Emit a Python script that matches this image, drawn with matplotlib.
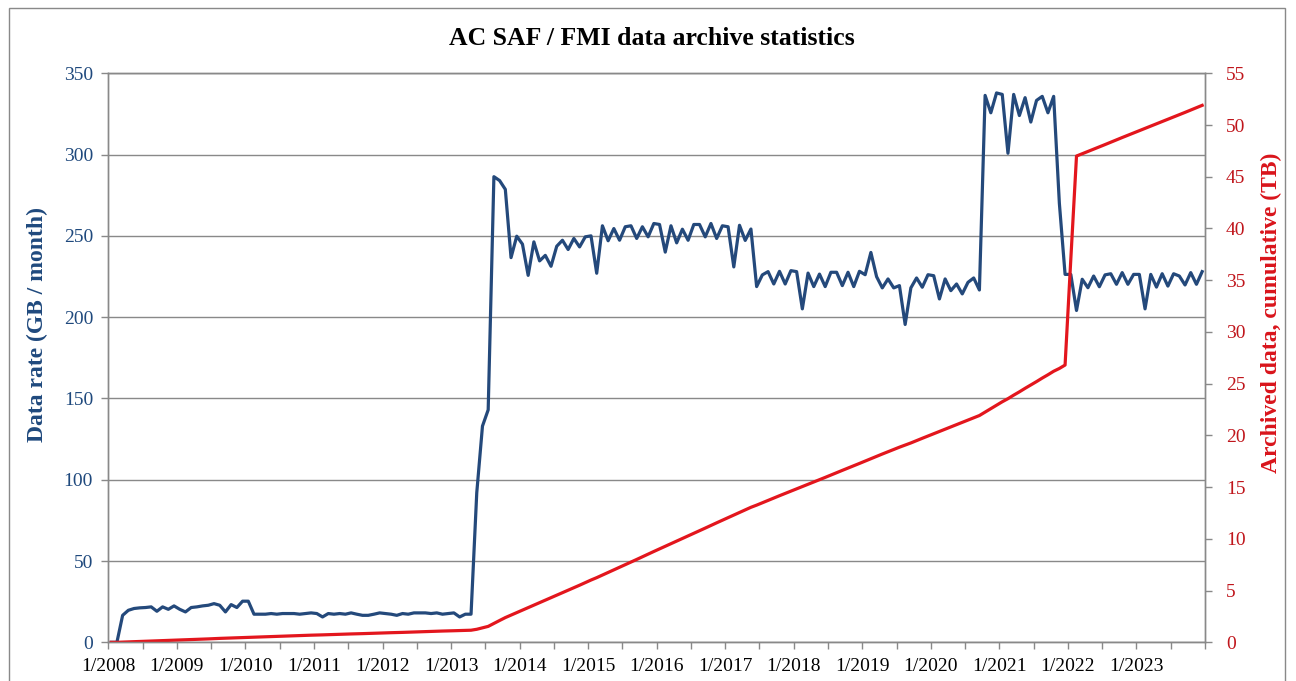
import numpy as np
import matplotlib.pyplot as plt
from matplotlib.patches import Rectangle

plt.rcParams['font.family'] = ['Liberation Serif', 'DejaVu Serif']

# data rate in GB / month, one value per month, 1/2008 .. 12/2023
rate_gb = [
    0, 0, 16.6, 19.7, 20.8, 21.2, 21.4, 21.8, 19.1, 21.8, 20.3, 22.4,            # 2008
    20.3, 18.7, 21.4, 21.8, 22.4, 22.8, 23.8, 22.8, 18.7, 23.2, 21.4, 25.3,      # 2009
    25.3, 17.3, 17.3, 17.3, 17.7, 17.3, 17.7, 17.7, 17.7, 17.3, 17.7, 18.1,      # 2010
    17.7, 15.6, 17.7, 17.3, 17.7, 17.3, 18.1, 17.3, 16.6, 16.6, 17.3, 18.1,      # 2011
    17.7, 17.3, 16.6, 17.7, 17.3, 18.1, 18.1, 18.1, 17.7, 18.1, 17.3, 17.7,      # 2012
    18.1, 15.6, 17.3, 17.3, 92, 133, 143, 286.4, 284, 278.6, 236.6, 249.8,       # 2013
    244.9, 225.7, 246.3, 234.6, 238, 231.3, 243.6, 247.3, 241.6, 248.4, 243.2, 249.4,  # 2014
    250, 227, 256.2, 247, 254.5, 247.3, 255.6, 256.2, 248.4, 255.6, 249.4, 257.6,      # 2015
    257, 240, 256.2, 245.7, 254.1, 247.3, 257, 257, 249.4, 257.6, 248.4, 256.2,        # 2016
    255.6, 230.9, 256.5, 247.2, 254.2, 218.8, 226, 228, 220.4, 228.2, 220.4, 228.6,    # 2017
    228, 205.1, 227.1, 218.8, 226.5, 218.8, 227.6, 227.6, 219.4, 227.6, 218.8, 228.2,  # 2018
    226.1, 239.8, 224.9, 218, 223.5, 218, 219.4, 195.5, 218, 224.1, 218.4, 226.1,      # 2019
    225.5, 211.2, 223.5, 216.3, 220.4, 214.3, 221.4, 224.1, 216.7, 336.4, 325.7, 337.9,  # 2020
    337, 300.8, 337, 324, 335, 320, 333.3, 335.8, 325.7, 335.8, 270, 226.3,            # 2021
    226.3, 204.1, 223.3, 218.1, 225.3, 218.7, 226, 226.7, 220.2, 227.4, 220.2, 226.3,  # 2022
    226.3, 205.1, 226.3, 218.5, 226.7, 219.1, 226.7, 225.3, 219.8, 227.4, 220.2, 228,  # 2023
]

# archived data, cumulative, TB
archive_tb = [
    0, 0, 0.02, 0.04, 0.06, 0.08, 0.10, 0.12, 0.14, 0.16, 0.18, 0.21,
    0.23, 0.24, 0.27, 0.29, 0.31, 0.33, 0.36, 0.38, 0.40, 0.42, 0.44, 0.47,
    0.49, 0.51, 0.53, 0.54, 0.56, 0.58, 0.60, 0.62, 0.63, 0.65, 0.67, 0.69,
    0.70, 0.72, 0.74, 0.75, 0.77, 0.79, 0.81, 0.82, 0.84, 0.86, 0.88, 0.89,
    0.91, 0.93, 0.94, 0.96, 0.98, 1.00, 1.02, 1.03, 1.05, 1.07, 1.09, 1.10,
    1.12, 1.14, 1.16, 1.17, 1.26, 1.40, 1.54, 1.83, 2.11, 2.39, 2.63, 2.88,
    3.12, 3.35, 3.59, 3.83, 4.07, 4.30, 4.54, 4.79, 5.03, 5.28, 5.52, 5.77,
    6.02, 6.25, 6.50, 6.75, 7.01, 7.25, 7.51, 7.76, 8.01, 8.27, 8.52, 8.78,
    9.03, 9.27, 9.53, 9.77, 10.03, 10.28, 10.53, 10.79, 11.04, 11.30, 11.55, 11.80,
    12.06, 12.29, 12.54, 12.79, 13.05, 13.26, 13.49, 13.72, 13.94, 14.17, 14.39, 14.62,
    14.84, 15.05, 15.28, 15.50, 15.72, 15.94, 16.17, 16.40, 16.62, 16.84, 17.06, 17.29,
    17.52, 17.76, 17.98, 18.20, 18.42, 18.64, 18.86, 19.06, 19.27, 19.50, 19.72, 19.94,
    20.17, 20.38, 20.60, 20.82, 21.04, 21.25, 21.47, 21.70, 21.92, 22.25, 22.58, 22.92,
    23.25, 23.55, 23.89, 24.21, 24.55, 24.87, 25.20, 25.54, 25.86, 26.20, 26.47, 26.80,
    37.0, 47.0, 47.22, 47.44, 47.67, 47.89, 48.11, 48.34, 48.56, 48.79, 49.01, 49.23,
    49.46, 49.66, 49.89, 50.11, 50.33, 50.55, 50.78, 51.00, 51.22, 51.45, 51.67, 51.90,
]

year_labels = [f"1/{y}" for y in range(2008, 2024)]

BLUE = '#24497B'
RED = '#E3161D'
GREY = '#898989'

fig = plt.figure(figsize=(12.96, 6.81), dpi=100)
ax = fig.add_axes([0.0836, 0.0568, 0.8462, 0.8356])

n = len(rate_gb)
months = np.arange(n) + 0.5
ax.plot(months, rate_gb, color=BLUE, lw=2.3, solid_joinstyle='round')

ax.set_xlim(0, n)
ax.set_ylim(0, 350)
ax.set_yticks(np.arange(0, 351, 50))
ax.yaxis.grid(True, color=GREY, lw=1)
ax.set_axisbelow(True)

xticks = np.arange(0, n + 1, 6)
xlabels = [year_labels[t // 12] if t % 12 == 0 and t < n else '' for t in xticks]
ax.set_xticks(xticks)
ax.set_xticklabels(xlabels)

ax.tick_params(axis='y', color=GREY, labelcolor='#1F497D', length=5, width=1,
               pad=6, labelsize=14)
ax.tick_params(axis='x', color=GREY, labelcolor='black', length=5, width=1,
               pad=6, labelsize=14)

ax2 = ax.twinx()
ax2.plot(months, archive_tb, color=RED, lw=2.3, solid_joinstyle='round')
ax2.set_ylim(0, 55)
ax2.set_yticks(np.arange(0, 56, 5))
ax2.tick_params(axis='y', color=GREY, labelcolor='#C0161C', length=5, width=1,
                pad=10, labelsize=14)

for a in (ax, ax2):
    for s in a.spines.values():
        s.set_color(GREY)
        s.set_linewidth(1)

fig.text(0.503, 0.943, "AC SAF / FMI data archive statistics", ha='center', va='center',
         fontsize=18.5, fontweight='bold')
fig.text(0.029, 0.524, "Data rate (GB / month)", ha='center', va='center', rotation=90,
         fontsize=17, fontweight='bold', color='#1F497D')
fig.text(0.981, 0.540, "Archived data, cumulative (TB)", ha='center', va='center', rotation=90,
         fontsize=17, fontweight='bold', color='#D9141B')

# chart border like the spreadsheet chart area
fig.patches.append(Rectangle((9 / 1296, -0.1), (1285 - 9) / 1296, 1 - 8 / 681 + 0.1,
                             transform=fig.transFigure, fill=False, edgecolor=GREY, lw=1))

fig.savefig("out.png", dpi=100)
